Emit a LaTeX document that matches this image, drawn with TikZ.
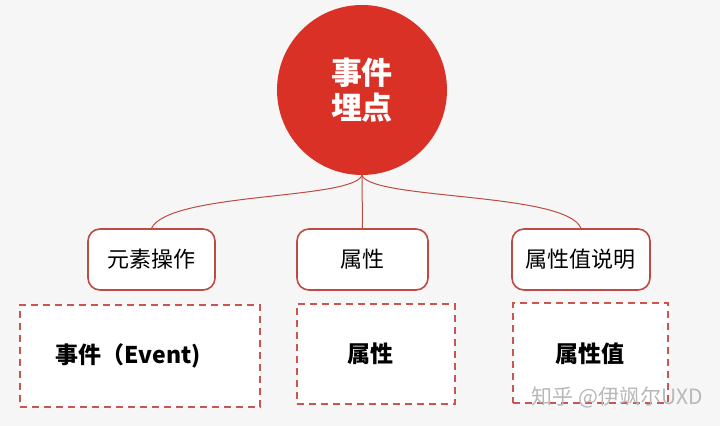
\documentclass[tikz,border=0pt]{standalone}
\usepackage{fontspec}
\setmainfont{Noto Sans CJK SC}
\usetikzlibrary{positioning}
\definecolor{bgcol}{HTML}{F6F6F6}
\definecolor{topred}{HTML}{DA3127}
\definecolor{linered}{HTML}{BE4A44}
\definecolor{dashred}{HTML}{C9564F}

\begin{document}
\begin{tikzpicture}[x=0.5pt,y=-0.5pt,
	every node/.style={inner sep=0pt},
	round/.style={shape=rectangle,draw=linered,line width=0.8pt,fill=white,rounded corners=6pt,minimum height=30.5pt,font=\fontsize{11}{13}\selectfont},
	dbox/.style={shape=rectangle,draw=dashred,line width=1pt,dash pattern=on 3.5pt off 2.5pt,fill=white,minimum height=50pt,font=\fontsize{11.5}{13}\selectfont\bfseries},
	conn/.style={draw=linered,line width=0.5pt},]
	\useasboundingbox[fill=bgcol] (0,0) rectangle (720,426);
	% create the nodes
	\node (top) [circle,fill=topred,minimum size=85pt,text=white,align=center,font=\fontsize{15.5}{17}\selectfont\bfseries] at (362,90) {事件\\[0.5pt]埋点};
	\node (op) [round,minimum width=63.5pt] at (151.5,259.5) {元素操作};
	\node (attr) [round,minimum width=65.5pt] at (362.5,259.5) {属性};
	\node (desc) [round,minimum width=69pt] at (581,259.5) {属性值说明};
	\node (event) [dbox,minimum width=120pt,minimum height=51pt] at (140,356) {事件（Event)\hspace*{12pt}};
	\node (prop) [dbox,minimum width=79pt] at (376,354) {属性\hspace*{5pt}};
	\node (val) [dbox,minimum width=77.5pt] at (590.5,353.5) {属性值};

	% connect the nodes
	\draw[conn] (top.south) to (attr.north);
	\draw[conn] (top.south) .. controls (352,200) and (170,192) .. (op.north);
	\draw[conn] (top.south) .. controls (372,200) and (566,192) .. (desc.north);

	\node (mark) [text=white!72!black,font=\fontsize{10.5}{12}\selectfont] at (617,397) {知乎 @伊飒尔UXD};
\end{tikzpicture}
\end{document}
